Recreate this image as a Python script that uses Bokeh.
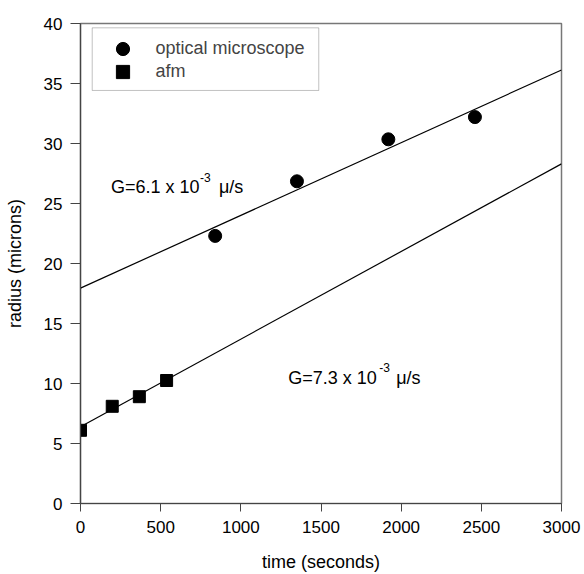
from bokeh.plotting import figure
from bokeh.models import Range1d, Legend, LegendItem, Label, FixedTicker, BoxAnnotation
from bokeh.embed import file_html
from bokeh.resources import INLINE

# ---- data ----
optical_time = [840, 1350, 1920, 2460]
optical_radius = [22.3, 26.85, 30.35, 32.2]
afm_time = [0, 198, 367, 537]
afm_radius = [6.1, 8.1, 8.9, 10.25]

fit_time = [0, 3000]
optical_fit_intercept = 17.95
optical_fit_slope = 0.00606
afm_fit_intercept = 6.4
afm_fit_slope = 0.0073

x_ticks = [0, 500, 1000, 1500, 2000, 2500, 3000]
y_ticks = [0, 5, 10, 15, 20, 25, 30, 35, 40]

optical_fit = [optical_fit_intercept + optical_fit_slope * t for t in fit_time]
afm_fit = [afm_fit_intercept + afm_fit_slope * t for t in fit_time]

FONT = "Liberation Sans"

p = figure(width=584, height=574, output_backend="svg", toolbar_location=None,
           x_range=Range1d(0, 3000), y_range=Range1d(0, 40),
           min_border_left=80, min_border_right=23, min_border_top=23, min_border_bottom=71)
p.background_fill_color = "white"
p.border_fill_color = "white"
p.grid.visible = False
p.outline_line_color = "#777777"
p.outline_line_width = 1.5

p.line(fit_time, optical_fit, line_color="black", line_width=1.2)
p.line(fit_time, afm_fit, line_color="black", line_width=1.2)
r_opt = p.scatter(optical_time, optical_radius, marker="circle", size=13,
                  fill_color="black", line_color="black")
r_afm = p.scatter(afm_time, afm_radius, marker="square", size=12,
                  fill_color="black", line_color="black")

for ax in (p.xaxis[0], p.yaxis[0]):
    ax.axis_line_color = "#444444"
    ax.axis_line_width = 1.2
    ax.major_tick_line_color = "#444444"
    ax.major_tick_in = 0
    ax.minor_tick_line_color = None
    ax.major_label_text_font = FONT
    ax.major_label_text_font_size = "17px"
    ax.major_label_text_color = "black"
    ax.axis_label_text_font = FONT
    ax.axis_label_text_font_size = "18px"
    ax.axis_label_text_font_style = "normal"
    ax.axis_label_text_color = "black"

p.xaxis.ticker = FixedTicker(ticks=x_ticks)
p.yaxis.ticker = FixedTicker(ticks=y_ticks)
p.xaxis.major_tick_out = 8
p.xaxis.major_label_standoff = 9
p.xaxis.axis_label = "time (seconds)"
p.xaxis.axis_label_standoff = 16
p.yaxis.major_tick_out = 10
p.yaxis.major_label_standoff = 8
p.yaxis.axis_label = "radius (microns)"
p.yaxis.axis_label_standoff = 16

# legend frame
p.add_layout(BoxAnnotation(left=73, right=1486, bottom=34.42, top=39.64,
                           fill_color="white", fill_alpha=1,
                           line_color="#333333", line_width=1, level="overlay"))

def legend_entry(label, renderer, loc):
    lg = Legend(items=[LegendItem(label=label, renderers=[renderer])],
                location=loc, margin=0, padding=0, spacing=0,
                glyph_width=33, glyph_height=33, label_standoff=17,
                label_height=20, label_text_font=FONT, label_text_font_size="18px",
                border_line_color=None, background_fill_alpha=0)
    p.add_layout(lg)

legend_entry("optical microscope", r_opt, (25.5, 438.5))
legend_entry("afm", r_afm, (25.5, 415.5))

def annotate(x, y, base, sup, unit, sup_dx, unit_dx):
    p.add_layout(Label(x=x, y=y, text=base, text_font=FONT, text_font_size="18px",
                       text_baseline="alphabetic", text_align="left", text_color="black"))
    p.add_layout(Label(x=x, y=y + 0.85, x_offset=sup_dx, text=sup, text_font=FONT,
                       text_font_size="12px", text_baseline="alphabetic",
                       text_align="left", text_color="black"))
    p.add_layout(Label(x=x, y=y, x_offset=unit_dx, text=unit, text_font=FONT,
                       text_font_size="18px", text_baseline="alphabetic",
                       text_align="left", text_color="black"))

annotate(190, 26.34, "G=6.1 x 10", "-3", "\u03bc/s", 89, 108)
annotate(1295, 10.45, "G=7.3 x 10", "-3", "\u03bc/s", 91, 108)

open("out.html", "w").write(file_html(p, INLINE))
